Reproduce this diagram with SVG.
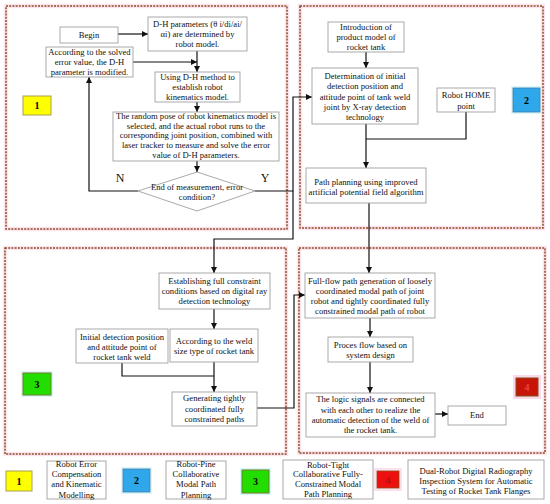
<svg xmlns="http://www.w3.org/2000/svg" width="550" height="504" viewBox="0 0 550 504">
<style>
.bg{fill:#ffffff}
.halo{fill:none;stroke:#fce6ee;stroke-width:4.5}
.panel{fill:none;stroke:#8e4a2a;stroke-width:1.5;stroke-dasharray:2 1.2}
.box{fill:#ffffff;stroke:#a0a0a0;stroke-width:0.9}
.t{font-family:"Liberation Serif","Times New Roman",serif;font-size:8.6px;fill:#111;text-anchor:middle}
.yn{font-family:"Liberation Serif","Times New Roman",serif;font-size:12px;fill:#111;text-anchor:middle}
.num{font-family:"Liberation Serif","Times New Roman",serif;font-size:10px;font-weight:bold;text-anchor:middle}
.conn{fill:none;stroke:#111;stroke-width:1.2}
</style>
<defs>
<marker id="ah" viewBox="0 0 10 10" refX="10" refY="5" markerWidth="6" markerHeight="6" markerUnits="userSpaceOnUse" orient="auto">
<path d="M0,0 L10,5 L0,10 z" fill="#111"/>
</marker>
</defs>
<rect class="bg" x="0" y="0" width="550" height="504"/>

<g id="panels">
<rect class="halo" x="6" y="6" width="281" height="223"/>
<rect class="panel" x="6" y="6" width="281" height="223"/>
<rect class="halo" x="300" y="6" width="243" height="222"/>
<rect class="panel" x="300" y="6" width="243" height="222"/>
<rect class="halo" x="5" y="248" width="281" height="206"/>
<rect class="panel" x="5" y="248" width="281" height="206"/>
<rect class="halo" x="299" y="248" width="246" height="205"/>
<rect class="panel" x="299" y="248" width="246" height="205"/>
</g>

<g id="connectors">
<path class="conn" d="M118,34 H148" marker-end="url(#ah)"/>
<path class="conn" d="M133,62 H197" marker-end="url(#ah)"/>
<path class="conn" d="M197,51 V72" marker-end="url(#ah)"/>
<path class="conn" d="M197,102 V112" marker-end="url(#ah)"/>
<path class="conn" d="M197,161 V172" marker-end="url(#ah)"/>
<path class="conn" d="M138,191 H89 V77" marker-end="url(#ah)"/>
<path class="conn" d="M255,191 H293 V97 H312" marker-end="url(#ah)"/>
<path class="conn" d="M293,191 V239 H214 V273" marker-end="url(#ah)"/>
<path class="conn" d="M366,52 V68" marker-end="url(#ah)"/>
<path class="conn" d="M366,124 V168" marker-end="url(#ah)"/>
<path class="conn" d="M466,112 V139 H366"/>
<path class="conn" d="M369,203 V273" marker-end="url(#ah)"/>
<path class="conn" d="M214,309 V329" marker-end="url(#ah)"/>
<path class="conn" d="M122,363 V376 H214"/>
<path class="conn" d="M214,362 V392" marker-end="url(#ah)"/>
<path class="conn" d="M257,408 H294 V295 H305" marker-end="url(#ah)"/>
<path class="conn" d="M370,318 V337" marker-end="url(#ah)"/>
<path class="conn" d="M370,362 V393" marker-end="url(#ah)"/>
<path class="conn" d="M435,414 H448" marker-end="url(#ah)"/>
</g>

<g id="n-begin"><rect class="box" x="60" y="27" width="58" height="16"/><text class="t" x="89" y="37.5">Begin</text></g>
<g id="n-dh"><rect class="box" x="148" y="17" width="99" height="34"/>
<text class="t" x="197.5" y="27">D-H parameters (θ i/di/ai/</text>
<text class="t" x="197.5" y="37">αi) are determined by</text>
<text class="t" x="197.5" y="47">robot model.</text></g>
<g id="n-modify"><rect class="box" x="46" y="47" width="87" height="30"/>
<text class="t" x="89.5" y="55">According to the solved</text>
<text class="t" x="89.5" y="65">error value, the D-H</text>
<text class="t" x="89.5" y="74.5">parameter is modified.</text></g>
<g id="n-using"><rect class="box" x="155" y="72" width="85" height="30"/>
<text class="t" x="197.5" y="80">Using D-H method to</text>
<text class="t" x="197.5" y="90">establish robot</text>
<text class="t" x="197.5" y="100">kinematics model.</text></g>
<g id="n-random"><rect class="box" x="113" y="112" width="166" height="49"/>
<text class="t" x="196" y="119">The random pose of robot kinematics model is</text>
<text class="t" x="196" y="128.5">selected, and the actual robot runs to the</text>
<text class="t" x="196" y="138">corresponding joint position, combined with</text>
<text class="t" x="196" y="148">laser tracker to measure and solve the error</text>
<text class="t" x="196" y="158">value of D-H parameters.</text></g>
<g id="n-decision"><polygon points="197,172 255,191 197,211 138,191" fill="#ffffff" stroke="#a0a0a0" stroke-width="0.9"/>
<text class="t" x="197" y="189.5">End of measurement, error</text>
<text class="t" x="197" y="200">condition?</text></g>
<g id="labels-yn"><text class="yn" x="120" y="182">N</text><text class="yn" x="265" y="182">Y</text></g>
<g id="tag1"><rect x="23" y="96" width="28" height="19" fill="#ffff00" stroke="#a8a050" stroke-width="1"/><text class="num" x="37" y="109">1</text></g>

<g id="n-intro"><rect class="box" x="328" y="22" width="76" height="30"/>
<text class="t" x="366" y="30">Introduction of</text>
<text class="t" x="366" y="40">product model of</text>
<text class="t" x="366" y="50">rocket tank</text></g>
<g id="n-determ"><rect class="box" x="312" y="68" width="106" height="56"/>
<text class="t" x="365" y="79">Determination of initial</text>
<text class="t" x="365" y="89">detection position and</text>
<text class="t" x="365" y="99.5">attitude point of tank weld</text>
<text class="t" x="365" y="110">joint by X-ray detection</text>
<text class="t" x="365" y="120">technology</text></g>
<g id="n-home"><rect class="box" x="437" y="88" width="58" height="24"/>
<text class="t" x="466" y="98">Robot HOME</text>
<text class="t" x="466" y="108.5">point</text></g>
<g id="tag2"><rect x="511" y="86" width="31" height="28" fill="#d8f8fa"/><rect x="513" y="88" width="27" height="24" fill="#2ea8ea" stroke="#4a78a8" stroke-width="0.8"/><text class="num" x="526.5" y="103.5">2</text></g>
<g id="n-pathplan"><rect class="box" x="306" y="168" width="120" height="35"/>
<text class="t" x="366" y="185">Path planning using improved</text>
<text class="t" x="366" y="194.5">artificial potential field algorithm</text></g>

<g id="n-establish"><rect class="box" x="159" y="273" width="111" height="36"/>
<text class="t" x="214.5" y="284">Establishing full constraint</text>
<text class="t" x="214.5" y="294">conditions based on digital ray</text>
<text class="t" x="214.5" y="304">detection technology</text></g>
<g id="n-initial"><rect class="box" x="76" y="329" width="92" height="34"/>
<text class="t" x="122" y="340">Initial detection position</text>
<text class="t" x="122" y="350">and attitude point of</text>
<text class="t" x="122" y="359.5">rocket tank weld</text></g>
<g id="n-weldsize"><rect class="box" x="170" y="329" width="88" height="33"/>
<text class="t" x="214" y="344">According to the weld</text>
<text class="t" x="214" y="353.5">size type of rocket tank</text></g>
<g id="n-generating"><rect class="box" x="172" y="392" width="85" height="34"/>
<text class="t" x="214.5" y="401">Generating tightly</text>
<text class="t" x="214.5" y="411.5">coordinated fully</text>
<text class="t" x="214.5" y="422">constrained paths</text></g>
<g id="tag3"><rect x="21" y="371" width="32" height="26" fill="#d8f8fa"/><rect x="23" y="373" width="28" height="22" fill="#22dd00" stroke="#707a20" stroke-width="1"/><text class="num" x="37" y="387.5">3</text></g>

<g id="n-fullflow"><rect class="box" x="305" y="273" width="130" height="45"/>
<text class="t" x="370" y="284">Full-flow path generation of loosely</text>
<text class="t" x="370" y="294">coordinated modal path of joint</text>
<text class="t" x="370" y="304">robot and tightly coordinated fully</text>
<text class="t" x="370" y="313.5">constrained modal path of robot</text></g>
<g id="n-proces"><rect class="box" x="328" y="337" width="85" height="25"/>
<text class="t" x="370.5" y="348">Proces flow based on</text>
<text class="t" x="370.5" y="358">system design</text></g>
<g id="n-logic"><rect class="box" x="306" y="393" width="129" height="44"/>
<text class="t" x="370.5" y="402">The logic signals are connected</text>
<text class="t" x="370.5" y="412.5">with each other to realize the</text>
<text class="t" x="370.5" y="423">automatic detection of the weld of</text>
<text class="t" x="370.5" y="433">the rocket tank.</text></g>
<g id="n-end"><rect class="box" x="448" y="406" width="58" height="19"/><text class="t" x="477" y="418">End</text></g>
<g id="tag4"><rect x="513" y="375" width="28" height="24" fill="#fbd8ec"/><rect x="516" y="378" width="22" height="18" fill="#c81408" stroke="#7a5010" stroke-width="1"/><text class="num" x="527" y="391" fill="#e84040">4</text></g>

<g id="legend">
<g id="lg1"><rect x="6" y="471" width="26" height="20" fill="#ffff00" stroke="#a8a050" stroke-width="1"/><text class="num" x="19" y="484.5">1</text></g>
<g id="lg1t"><rect class="box" x="47" y="461" width="59" height="38"/>
<text class="t" x="76.5" y="467">Robot Error</text>
<text class="t" x="76.5" y="477">Compensation</text>
<text class="t" x="76.5" y="487">and Kinematic</text>
<text class="t" x="76.5" y="497.5">Modelling</text></g>
<g id="lg2"><rect x="121" y="467" width="31" height="27" fill="#d8f8fa"/><rect x="123" y="469" width="27" height="23" fill="#2ea8ea" stroke="#4a78a8" stroke-width="0.8"/><text class="num" x="136.5" y="484">2</text></g>
<g id="lg2t"><rect class="box" x="166" y="461" width="60" height="38"/>
<text class="t" x="196" y="467">Robot-Pine</text>
<text class="t" x="196" y="477">Collaborative</text>
<text class="t" x="196" y="487">Modal Path</text>
<text class="t" x="196" y="497.5">Planning</text></g>
<g id="lg3"><rect x="240" y="468" width="31" height="27" fill="#d8f8fa"/><rect x="242" y="470" width="27" height="23" fill="#22dd00" stroke="#707a20" stroke-width="1"/><text class="num" x="255.5" y="485">3</text></g>
<g id="lg3t"><rect class="box" x="283" y="460" width="90" height="39"/>
<text class="t" x="328" y="467.5">Robot-Tight</text>
<text class="t" x="328" y="477">Collaborative Fully-</text>
<text class="t" x="328" y="487">Constrained Modal</text>
<text class="t" x="328" y="497">Path Planning</text></g>
<g id="lg4"><rect x="374" y="468" width="28" height="23" fill="#fbe0ee"/><rect x="377" y="471" width="22" height="17" fill="#ee1010" stroke="#8a5010" stroke-width="0.8"/><text class="num" x="388" y="483.5" fill="#b01010">4</text></g>
<g id="lg4t"><rect class="box" x="408" y="460" width="136" height="39"/>
<text class="t" x="476" y="474">Dual-Robot Digital Radiography</text>
<text class="t" x="476" y="484">Inspection System for Automatic</text>
<text class="t" x="476" y="494">Testing of Rocket Tank Flanges</text></g>
</g>
</svg>
